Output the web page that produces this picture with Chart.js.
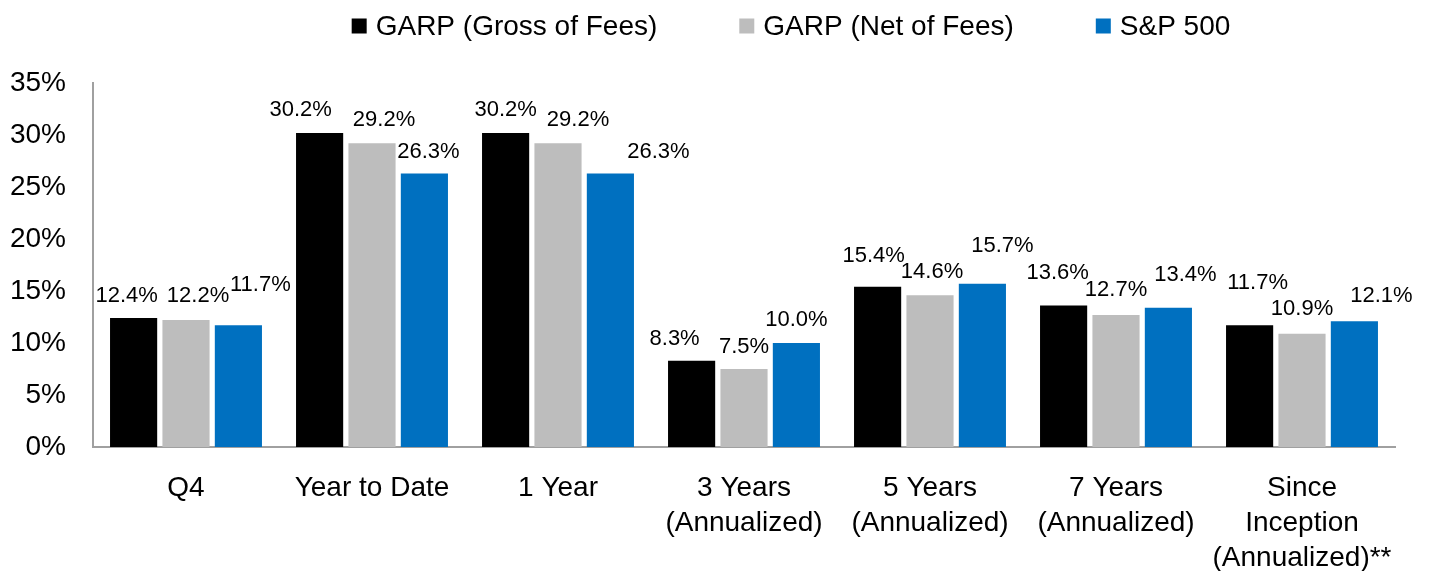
<!DOCTYPE html>
<html>
<head>
<meta charset="utf-8">
<script src="https://cdn.jsdelivr.net/npm/chart.js@4.4.1/dist/chart.umd.min.js"></script>
<style>
  html, body { margin: 0; padding: 0; background: #ffffff; }
  #wrap { width: 1429px; height: 571px; }
</style>
</head>
<body>
<div id="wrap"><canvas id="c" width="1429" height="571"></canvas></div>
<script>
// ---- Data ----
const categories = [
  ['Q4'],
  ['Year to Date'],
  ['1 Year'],
  ['3 Years', '(Annualized)'],
  ['5 Years', '(Annualized)'],
  ['7 Years', '(Annualized)'],
  ['Since', 'Inception', '(Annualized)**']
];
const seriesNames = ['GARP (Gross of Fees)', 'GARP (Net of Fees)', 'S&P 500'];
const garpGross = [12.4, 30.2, 30.2, 8.3, 15.4, 13.6, 11.7];
const garpNet   = [12.2, 29.2, 29.2, 7.5, 14.6, 12.7, 10.9];
const sp500     = [11.7, 26.3, 26.3, 10.0, 15.7, 13.4, 12.1];
const yTickValues = [0, 5, 10, 15, 20, 25, 30, 35];

// ---- Styling ----
const FONT = "'Liberation Sans', Arial, Helvetica, sans-serif";
const colors = ['#000000', '#bdbdbd', '#0070c0'];
// label nudges (px) relative to default position above each bar: [dx, extra lift]
const labelNudges = [
  [[-7,-1],[-19,0],[0,0],[-17,-1],[-4,8],[-6,10],[8,19]],
  [[12,1],[12,0],[20,0],[0,-1],[2,0],[0,2],[0,2]],
  [[22,17],[4,-2],[48,-2],[0,0],[20,15],[17,10],[27,2]]
];

const valueLabels = {
  id: 'valueLabels',
  afterDatasetsDraw(chart) {
    const ctx = chart.ctx;
    ctx.save();
    ctx.font = '22px ' + FONT;
    ctx.fillStyle = '#000000';
    ctx.textAlign = 'center';
    ctx.textBaseline = 'alphabetic';
    chart.data.datasets.forEach((ds, di) => {
      const meta = chart.getDatasetMeta(di);
      meta.data.forEach((el, i) => {
        const n = labelNudges[di][i];
        ctx.fillText(ds.data[i].toFixed(1) + '%', el.x + n[0], el.y - 17 - n[1]);
      });
    });
    ctx.restore();
  }
};

const topLegend = {
  id: 'topLegend',
  afterDraw(chart) {
    const ctx = chart.ctx;
    ctx.save();
    ctx.font = '28px ' + FONT;
    ctx.textBaseline = 'middle';
    ctx.textAlign = 'left';
    const box = 15, gapText = 9, gapItem = 82;
    const items = chart.data.datasets.map(d => ({ label: d.label, color: d.backgroundColor, w: ctx.measureText(d.label).width }));
    let total = 0;
    items.forEach((it, i) => { total += box + gapText + it.w + (i < items.length - 1 ? gapItem : 0); });
    const cx = chart.chartArea.left + 698;
    const cy = 26;
    let x = cx - total / 2;
    items.forEach(it => {
      ctx.fillStyle = it.color;
      ctx.fillRect(x, cy - box / 2, box, box);
      x += box + gapText;
      ctx.fillStyle = '#000000';
      ctx.fillText(it.label, x, cy + 1);
      x += it.w + gapItem;
    });
    ctx.restore();
  }
};

new Chart(document.getElementById('c'), {
  type: 'bar',
  data: {
    labels: categories,
    datasets: [
      { label: seriesNames[0], data: garpGross, backgroundColor: colors[0] },
      { label: seriesNames[1], data: garpNet,   backgroundColor: colors[1] },
      { label: seriesNames[2], data: sp500,     backgroundColor: colors[2] }
    ]
  },
  options: {
    responsive: false,
    animation: false,
    devicePixelRatio: 1,
    categoryPercentage: 0.845,
    barPercentage: 0.9,
    layout: { padding: { top: 83, right: 34, bottom: 0, left: 0 } },
    plugins: {
      legend: { display: false },
      tooltip: { enabled: false },
      title: { display: false }
    },
    scales: {
      x: {
        grid: { display: false, drawTicks: false },
        border: { display: true, color: '#a0a0a0', width: 2 },
        ticks: {
          color: '#000000',
          font: { family: FONT, size: 28, lineHeight: 1.24 },
          padding: 24,
          maxRotation: 0,
          autoSkip: false
        },
        afterFit(scale) { scale.height = 124; }
      },
      y: {
        min: 0,
        max: 35,
        afterBuildTicks(scale) { scale.ticks = yTickValues.map(v => ({ value: v })); },
        grid: { display: false, drawTicks: false },
        border: { display: true, color: '#a0a0a0', width: 2 },
        ticks: {
          color: '#000000',
          font: { family: FONT, size: 28 },
          padding: 27,
          callback: v => v + '%'
        },
        afterFit(scale) { scale.width = 93; }
      }
    }
  },
  plugins: [valueLabels, topLegend]
});
</script>
</body>
</html>
